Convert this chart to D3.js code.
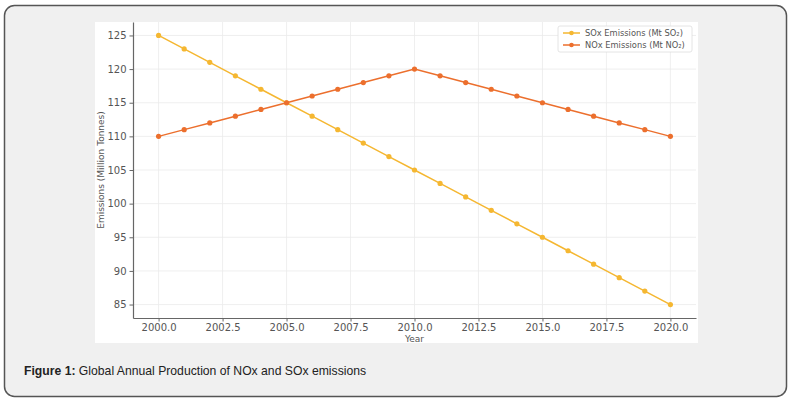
<!DOCTYPE html>
<html>
<head>
<meta charset="utf-8">
<script src="https://cdn.jsdelivr.net/npm/d3@7"></script>
<style>
body { margin: 0; background: #fff; }
</style>
</head>
<body>
<div id="vis"></div>
<script>
var years = [2000, 2001, 2002, 2003, 2004, 2005, 2006, 2007, 2008, 2009, 2010,
             2011, 2012, 2013, 2014, 2015, 2016, 2017, 2018, 2019, 2020];
var soxValues = [125, 123, 121, 119, 117, 115, 113, 111, 109, 107, 105,
                 103, 101, 99, 97, 95, 93, 91, 89, 87, 85];
var noxValues = [110, 111, 112, 113, 114, 115, 116, 117, 118, 119, 120,
                 119, 118, 117, 116, 115, 114, 113, 112, 111, 110];
var xTicks = [2000, 2002.5, 2005, 2007.5, 2010, 2012.5, 2015, 2017.5, 2020];
var yTicks = [85, 90, 95, 100, 105, 110, 115, 120, 125];
var seriesNames = ["SOx Emissions (Mt SO\u2082)", "NOx Emissions (Mt NO\u2082)"];
var colours = ["#f5b731", "#ec6f2d"];

var width = 796;
var height = 401;

var svg = d3.select('#vis')
    .append('svg')
    .attr('width', width)
    .attr('height', height);

// outer figure box
svg.append('rect')
    .attr('x', 4.5).attr('y', 5.5)
    .attr('width', 782).attr('height', 391)
    .attr('rx', 10)
    .attr('fill', '#f0f0f0')
    .attr('stroke', '#555')
    .attr('stroke-width', 1.5);

// white picture area
svg.append('rect')
    .attr('x', 95).attr('y', 22)
    .attr('width', 603).attr('height', 321)
    .attr('fill', '#fff');

var plot = { left: 133, right: 696, top: 22, bottom: 318 };

var x_scale = d3.scaleLinear()
    .domain([1999, 2021])
    .range([plot.left, plot.right]);

var y_scale = d3.scaleLinear()
    .domain([83, 127])
    .range([plot.bottom, plot.top]);

// grid
svg.append('g').selectAll('line')
    .data(xTicks)
    .enter().append('line')
    .attr('x1', function(d) { return x_scale(d); })
    .attr('x2', function(d) { return x_scale(d); })
    .attr('y1', plot.top).attr('y2', plot.bottom)
    .attr('stroke', '#ebebeb').attr('stroke-width', 0.8);

svg.append('g').selectAll('line')
    .data(yTicks)
    .enter().append('line')
    .attr('x1', plot.left).attr('x2', plot.right)
    .attr('y1', function(d) { return y_scale(d); })
    .attr('y2', function(d) { return y_scale(d); })
    .attr('stroke', '#ebebeb').attr('stroke-width', 0.8);

var x_axis = d3.axisBottom(x_scale)
    .tickValues(xTicks)
    .tickFormat(d3.format('.1f'))
    .tickSize(3.5)
    .tickPadding(2.5)
    .tickSizeOuter(0);
var y_axis = d3.axisLeft(y_scale)
    .tickValues(yTicks)
    .tickSize(3.5)
    .tickSizeOuter(0);

var gx = svg.append('g')
    .attr('transform', 'translate(0,' + plot.bottom + ')')
    .call(x_axis);
var gy = svg.append('g')
    .attr('transform', 'translate(' + plot.left + ',0)')
    .call(y_axis);

[gx, gy].forEach(function(g) {
    g.select('.domain').attr('stroke', '#666').attr('stroke-width', 1.2);
    g.selectAll('.tick line').attr('stroke', '#666');
    g.selectAll('.tick text')
        .attr('fill', '#555')
        .style('font-family', 'DejaVu Sans')
        .style('font-size', '10px');
});

// axis labels
svg.append('text')
    .attr('x', x_scale(2010))
    .attr('y', 342)
    .attr('text-anchor', 'middle')
    .attr('fill', '#555')
    .style('font-family', 'DejaVu Sans')
    .style('font-size', '9px')
    .text('Year');

svg.append('text')
    .attr('transform', 'translate(104,' + ((plot.top + plot.bottom) / 2) + ') rotate(-90)')
    .attr('text-anchor', 'middle')
    .attr('fill', '#555')
    .style('font-family', 'DejaVu Sans')
    .style('font-size', '9px')
    .text('Emissions (Million Tonnes)');

// lines and markers
var series = [soxValues, noxValues];
var line = d3.line()
    .x(function(d, i) { return x_scale(years[i]); })
    .y(function(d) { return y_scale(d); });

series.forEach(function(vals, s) {
    svg.append('path')
        .datum(vals)
        .attr('d', line)
        .attr('fill', 'none')
        .attr('stroke', colours[s])
        .attr('stroke-width', 1.5);
    svg.append('g').selectAll('circle')
        .data(vals)
        .enter().append('circle')
        .attr('cx', function(d, i) { return x_scale(years[i]); })
        .attr('cy', function(d) { return y_scale(d); })
        .attr('r', 2.6)
        .attr('fill', colours[s]);
});

// legend
var legend = svg.append('g');
legend.append('rect')
    .attr('x', 558).attr('y', 26)
    .attr('width', 134).attr('height', 26)
    .attr('rx', 2)
    .attr('fill', '#fff')
    .attr('stroke', '#ddd')
    .attr('stroke-width', 0.8);
seriesNames.forEach(function(name, s) {
    var ly = 33 + s * 12;
    legend.append('line')
        .attr('x1', 563).attr('x2', 580)
        .attr('y1', ly).attr('y2', ly)
        .attr('stroke', colours[s]).attr('stroke-width', 1.5);
    legend.append('circle')
        .attr('cx', 571.5).attr('cy', ly).attr('r', 2.3)
        .attr('fill', colours[s]);
    legend.append('text')
        .attr('x', 585).attr('y', ly + 3)
        .attr('fill', '#555')
        .style('font-family', 'DejaVu Sans')
        .style('font-size', '8.3px')
        .text(name);
});

// caption
var caption = svg.append('text')
    .attr('x', 24).attr('y', 375)
    .attr('fill', '#222')
    .style('font-family', 'Liberation Sans, Arial, sans-serif')
    .style('font-size', '12.2px');
caption.append('tspan').style('font-weight', 'bold').text('Figure 1:');
caption.append('tspan').text(' Global Annual Production of NOx and SOx emissions');
</script>
</body>
</html>
